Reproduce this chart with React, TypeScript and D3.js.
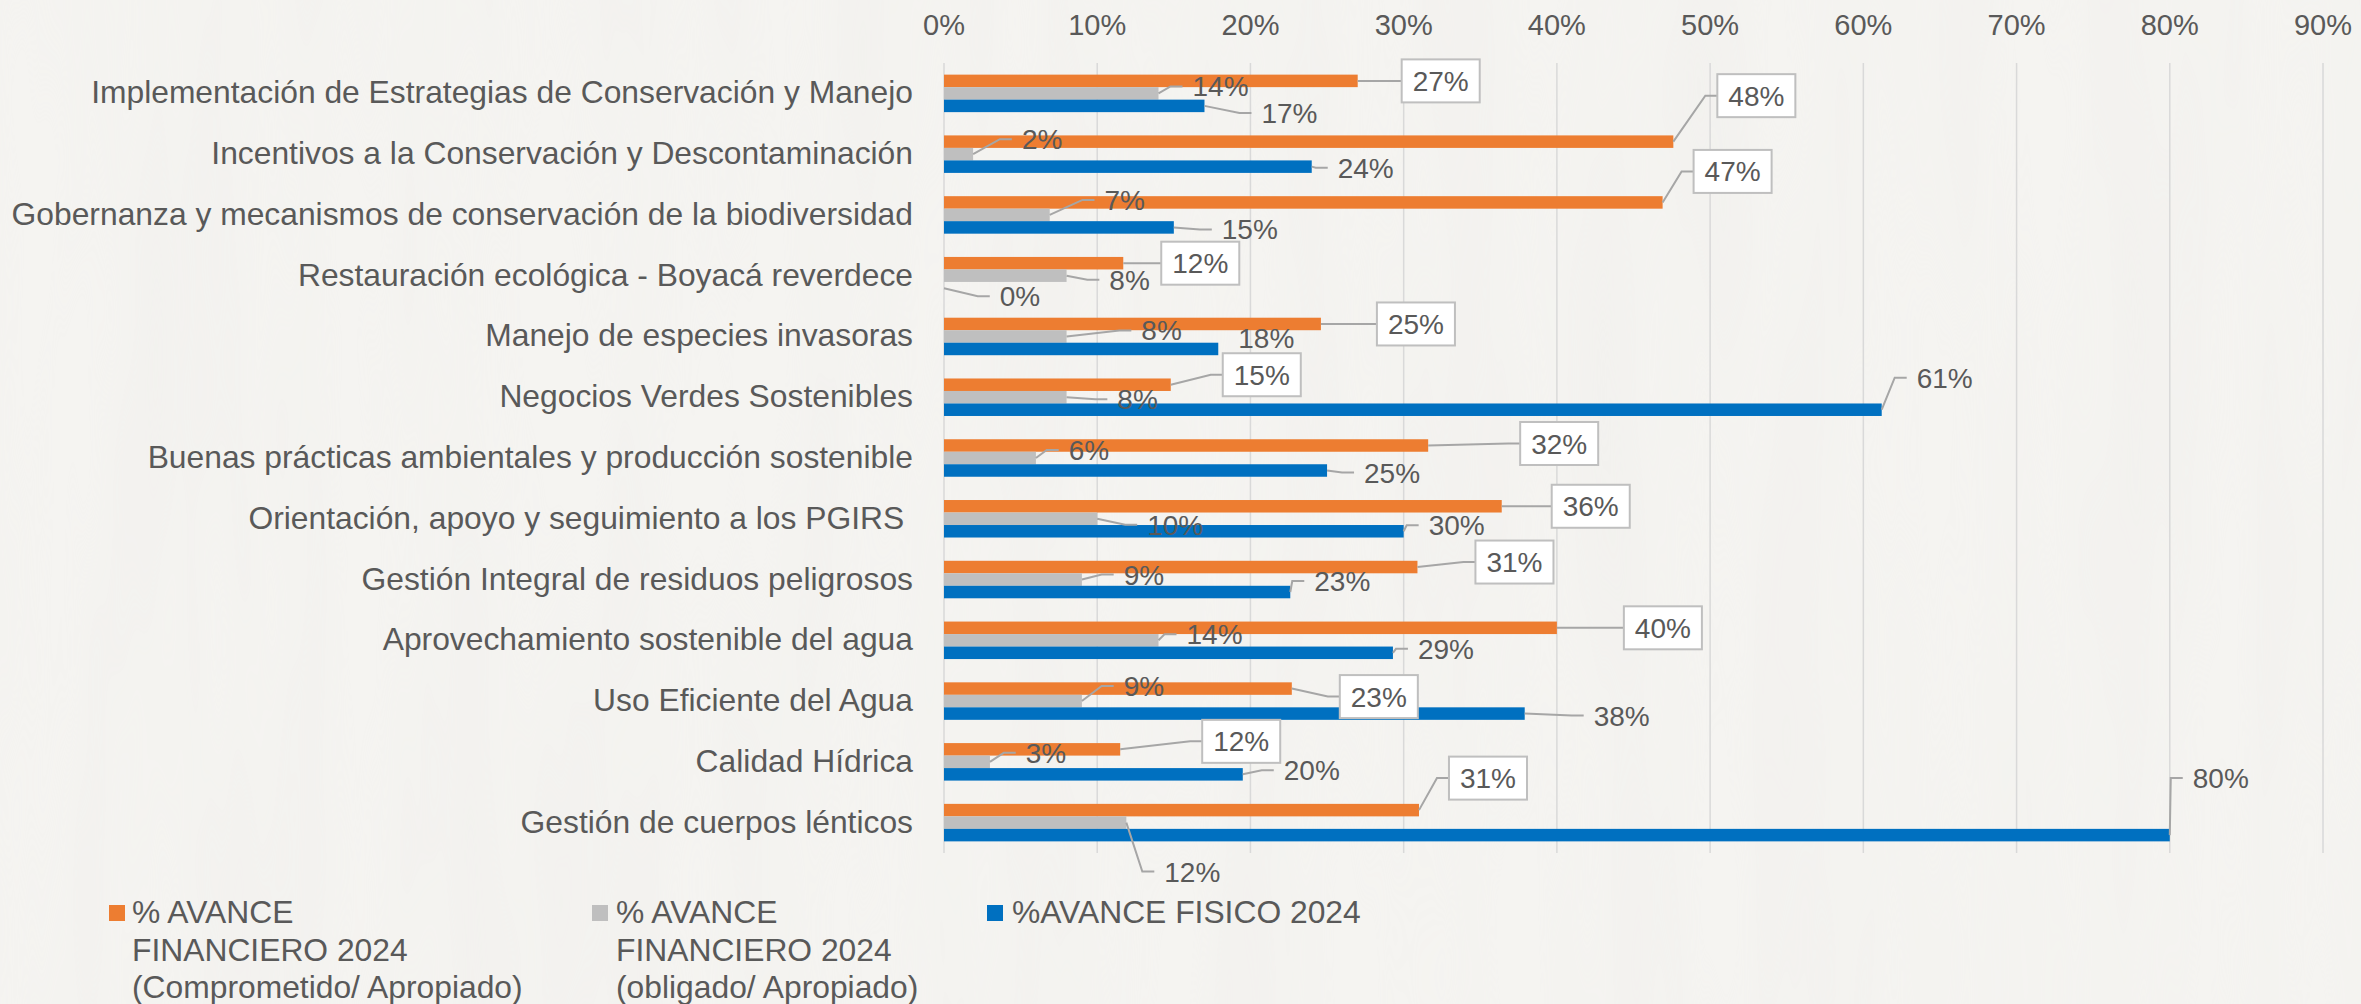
import React from 'react';
import * as d3 from 'd3';

const categories = [
  'Implementación de Estrategias de Conservación y Manejo',
  'Incentivos a la Conservación y Descontaminación',
  'Gobernanza y mecanismos de conservación de la biodiversidad',
  'Restauración ecológica - Boyacá reverdece',
  'Manejo de especies invasoras',
  'Negocios Verdes Sostenibles',
  'Buenas prácticas ambientales y producción sostenible',
  'Orientación, apoyo y seguimiento a los PGIRS ',
  'Gestión Integral de residuos peligrosos',
  'Aprovechamiento sostenible del agua',
  'Uso Eficiente del Agua',
  'Calidad Hídrica',
  'Gestión de cuerpos lénticos',
];

// % values
const comprometido = [27, 47.6, 46.9, 11.7, 24.6, 14.8, 31.6, 36.4, 30.9, 40.0, 22.7, 11.5, 31.0];
const obligado = [14, 1.9, 6.9, 8, 8, 8, 6, 10, 9, 14, 9, 3, 11.9];
const fisico = [17, 24, 15, 0, 17.9, 61.2, 25, 30, 22.6, 29.3, 37.9, 19.5, 80];

const xTicks = [0, 10, 20, 30, 40, 50, 60, 70, 80, 90];

const seriesNames = [
  ['% AVANCE', 'FINANCIERO 2024', '(Comprometido/ Apropiado)'],
  ['% AVANCE', 'FINANCIERO 2024', '(obligado/ Apropiado)'],
  ['%AVANCE FISICO 2024'],
];

// label placement (text centre relative to bar end / bar centre), dragged by hand in the original
const offsComprometido = [[83, 0], [83, -46], [70, -31], [77, 0], [95, 0], [91, -10], [131, -2], [89, 0], [97, -5], [106, 0], [87, 8], [121, -8], [69, -32]];
const offsObligado = [[62, -7], [69, -15], [75, -15], [63, 4], [95, -6], [71, 2], [53, -8], [78, 6], [62, -5], [56, -6], [62, -15], [56, -9], [66, 49]];
const offsFisico = [[85, 7], [54, 1], [76, 2], [76, 8], [48, -11], [63, -32], [65, 2], [53, -6], [52, -11], [53, -4], [97, 2], [69, -4], [51, -57]];

const COLORS = ['#ED7D31', '#BFBFBF', '#0070C0'];
const TEXT = '#595959';
const FONT = '"Liberation Sans", Arial, sans-serif';

const W = 2361;
const H = 1004;

export default function App() {
  const x = d3.scaleLinear().domain([0, 90]).range([944, 2323]);
  const y = d3.scaleBand<string>().domain(categories).range([63, 853]);
  const groupH = 37.5;
  const sub = d3.scaleBand<number>().domain([0, 1, 2]).range([0, groupH]);
  const gOff = (y.bandwidth() - groupH) / 2;

  const series = [comprometido, obligado, fisico];
  const offsets = [offsComprometido, offsObligado, offsFisico];

  const labelFs = 28;
  const bigFs = 31.8;
  const textW = (s: string) => (s.length <= 2 ? 1.445 : 2.001) * labelFs;

  return (
    <svg width={W} height={H} style={{ position: 'absolute', left: 0, top: 0, fontFamily: FONT }}>
      <defs>
        <filter id="paper" x="0" y="0" width="100%" height="100%">
          <feTurbulence type="fractalNoise" baseFrequency="0.012 0.0015" numOctaves="3" seed="4" />
          <feColorMatrix type="matrix" values="0 0 0 0 0.84  0 0 0 0 0.83  0 0 0 0 0.81  0 0 0 1 -0.25" />
        </filter>
      </defs>
      <rect width={W} height={H} fill="#F5F4F1" />
      <rect width={W} height={H} filter="url(#paper)" opacity={0.5} />

      {/* gridlines + top axis labels */}
      {xTicks.map((t) => (
        <g key={t}>
          <line x1={x(t)} x2={x(t)} y1={63} y2={853} stroke="#D9D9D9" strokeWidth={1.5} />
          <text x={x(t)} y={35} fontSize={29} fill={TEXT} textAnchor="middle">{t}%</text>
        </g>
      ))}

      {/* category labels */}
      {categories.map((c) => (
        <text key={c} x={913} y={(y(c) ?? 0) + y.bandwidth() / 2 + 10} fontSize={bigFs} fill={TEXT}
          textAnchor="end" style={{ whiteSpace: 'pre' }}>{c}</text>
      ))}

      {/* bars */}
      {series.map((vals, s) =>
        vals.map((v, i) => (
          <rect key={`b${s}-${i}`} x={x(0)} y={(y(categories[i]) ?? 0) + gOff + (sub(s) ?? 0)}
            width={x(v) - x(0)} height={sub.bandwidth()} fill={COLORS[s]} />
        ))
      )}

      {/* data labels with leader lines */}
      {series.map((vals, s) =>
        vals.map((v, i) => {
          const bx = x(v);
          const by = (y(categories[i]) ?? 0) + gOff + (sub(s) ?? 0) + sub.bandwidth() / 2;
          const [dx, dy] = offsets[s][i];
          const cx = bx + dx;
          const cy = by + dy;
          const txt = `${Math.round(v)}%`;
          const tw = textW(txt);
          const boxed = s === 0;
          const pad = boxed ? 11 : 10;
          const left = cx - tw / 2 - pad;
          const showLeader = left - bx > 12 || Math.abs(dy) > 15;
          return (
            <g key={`l${s}-${i}`}>
              {showLeader && (
                <path d={`M${bx},${by}L${left - 12},${cy}L${left},${cy}`} fill="none" stroke="#A6A6A6" strokeWidth={2} />
              )}
              {boxed && (
                <rect x={left} y={cy - 21.5} width={tw + pad * 2} height={43} fill="#FFFFFF" stroke="#BFBFBF" strokeWidth={2} />
              )}
              <text x={cx} y={cy + 10} fontSize={labelFs} fill={TEXT} textAnchor="middle">{txt}</text>
            </g>
          );
        })
      )}

      {/* legend */}
      {[[109, 132], [592, 616], [987, 1012]].map(([mx, tx], s) => (
        <g key={`lg${s}`}>
          <rect x={mx} y={905} width={16} height={16} fill={COLORS[s]} />
          <text x={tx} y={923} fontSize={bigFs} fill={TEXT}>
            {seriesNames[s].map((ln, k) => (
              <tspan key={k} x={tx} dy={k === 0 ? 0 : 37.5}>{ln}</tspan>
            ))}
          </text>
        </g>
      ))}
    </svg>
  );
}
